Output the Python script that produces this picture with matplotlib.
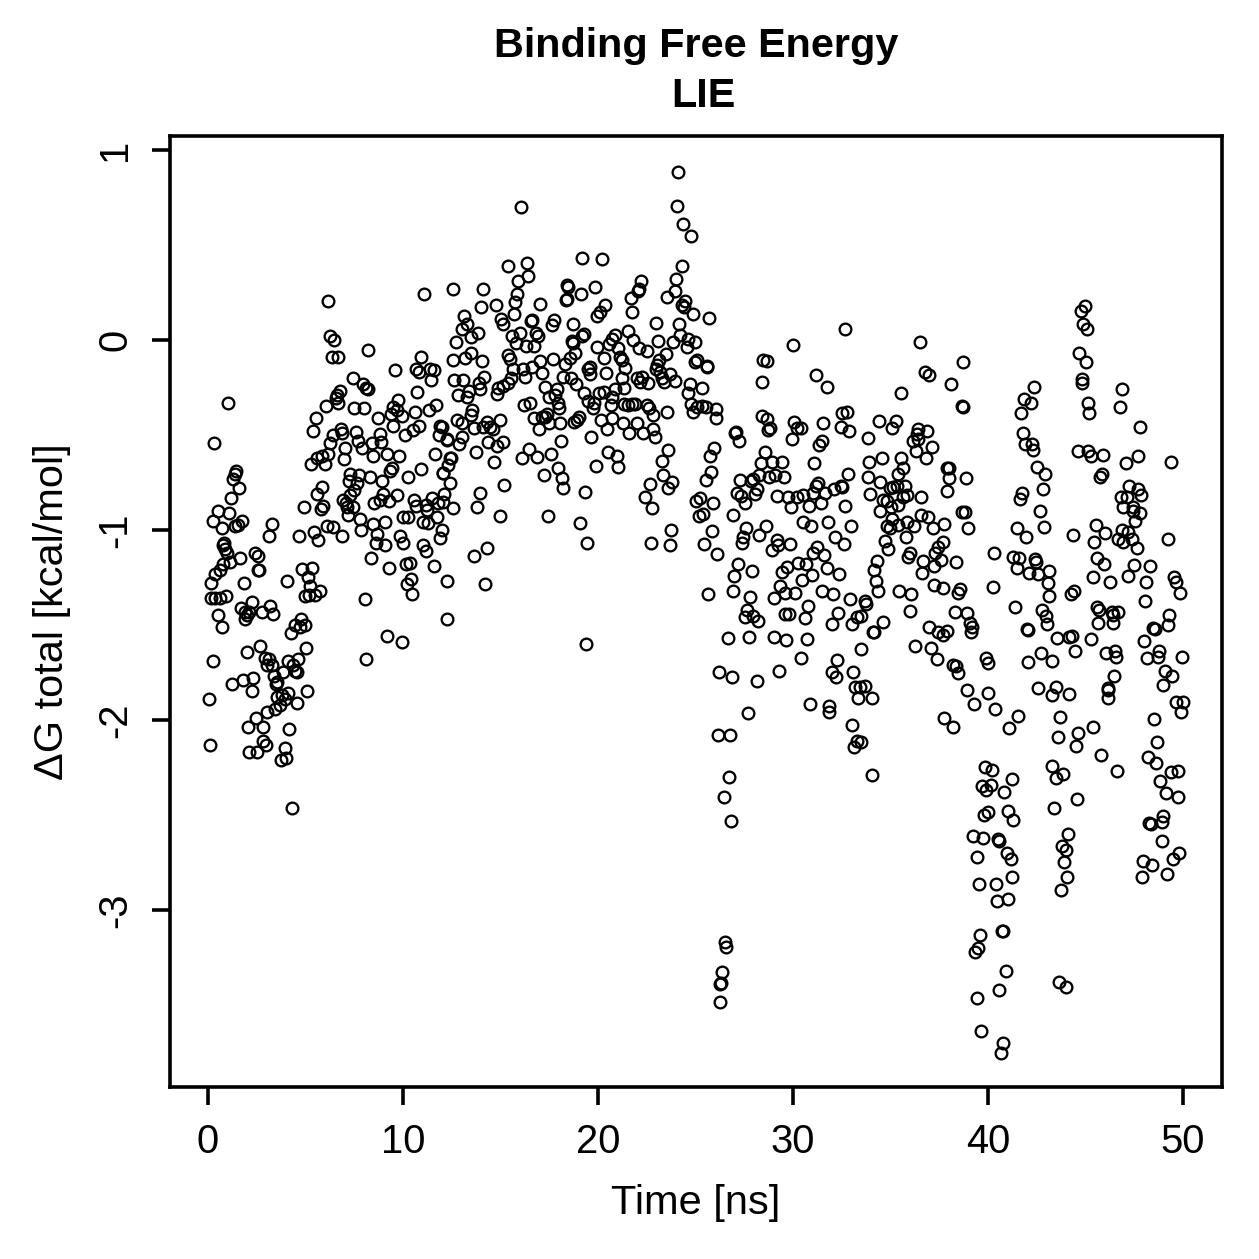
import matplotlib
matplotlib.use("Agg")
import matplotlib.pyplot as plt

# (time in ns, total binding free energy in kcal/mol), grouped by trajectory stretch
start_low = [
(.79,-1.08),(.87,-1.10),(.96,-1.12),(1.64,-1.15),(1.13,-1.17),(.79,-1.18),(.62,-1.21),(.36,-1.23),(.14,-1.28),(1.85,-1.28),
(2.41,-1.12),(2.58,-1.135),(2.58,-1.21),(2.64,-1.21),(.14,-1.36),(.36,-1.36),(.62,-1.36),(.93,-1.35),(1.68,-1.41),(2.28,-1.38),
(1.9,-1.43),(2.12,-1.43),(2.02,-1.45),(1.9,-1.47),(2.76,-1.43),(3.18,-1.40),(3.35,-1.44),(.53,-1.45),(.74,-1.51),(4.04,-1.27),
(4.84,-1.205),(5.35,-1.2),(5.15,-1.25),(5.23,-1.295),(4.98,-1.35),(5.2,-1.34),(5.49,-1.34),(5.75,-1.32),(4.77,-1.47),(4.46,-1.5),
(4.72,-1.51),(4.98,-1.5),(4.24,-1.54),(5.03,-1.62),(2.67,-1.61),(1.99,-1.64),(.24,-1.69),(2.93,-1.675),(3.15,-1.68),(3.01,-1.71),
(3.27,-1.71),(4.12,-1.69),(4.64,-1.68),(4.38,-1.71),(4.46,-1.74),(4.58,-1.75),(3.87,-1.75),(3.39,-1.77),(3.56,-1.8),(3.49,-1.81),
(2.33,-1.78),(1.78,-1.79),(1.22,-1.81),(2.24,-1.85),(.05,-1.89),(5.1,-1.85),(4.12,-1.86),(3.78,-1.87),(3.52,-1.88),(3.95,-1.89),
(3.7,-1.92),(4.58,-1.91),(3.44,-1.94),(3.05,-1.96),(2.45,-1.99),(2.07,-2.035),(2.81,-2.035),(4.17,-2.05),(2.84,-2.11),(2.98,-2.13),
(.11,-2.13),(2.12,-2.17),(2.53,-2.17),(3.95,-2.15),(3.73,-2.21),(4.0,-2.2),(4.29,-2.465),
]
rise_upper = [
(6.17,.205),(11.1,.24),(6.26,.02),(6.48,0),(6.35,-.09),(6.69,-.09),(8.19,-.05),(10.9,-.09),(9.59,-.16),(10.65,-.155),
(10.84,-.17),(11.39,-.15),(11.59,-.16),(11.42,-.21),(7.46,-.2),(7.93,-.23),(8.1,-.25),(8.23,-.26),(10.74,-.275),(6.77,-.27),
(6.6,-.29),(6.57,-.307),(6.65,-.33),(6.05,-.345),(7.49,-.36),(8.0,-.36),(8.7,-.41),(9.76,-.315),(9.51,-.35),(9.68,-.37),
(9.39,-.39),(9.93,-.40),(10.62,-.38),(11.7,-.34),(11.35,-.37),(5.54,-.41),(5.4,-.48),(1.05,-.33),(.33,-.54),(6.81,-.47),
(6.43,-.5),(6.86,-.49),(7.59,-.485),(7.71,-.53),(7.88,-.57),(8.4,-.54),(8.82,-.495),(8.86,-.535),(9.51,-.455),(10.1,-.5),
(10.5,-.475),(10.8,-.45),(11.9,-.45),(11.83,-.5),(12.24,-.52),(11.64,-.6),(6.26,-.54),(7.03,-.57),(6.98,-.625),(6.14,-.6),
(5.58,-.62),(5.83,-.61),(6.0,-.65),(5.27,-.65),(8.45,-.61),(9.2,-.6),(9.8,-.61),(9.42,-.675),(9.34,-.69),(10.24,-.72),
(10.94,-.68),(12.04,-.7),(12.4,-.62),(7.29,-.705),(7.25,-.74),(7.76,-.71),(8.31,-.72),(8.91,-.74),(7.63,-.755),(7.51,-.79),
(7.29,-.815),(6.94,-.84),(7.08,-.86),(7.11,-.88),(7.46,-.88),(7.2,-.92),(5.83,-.775),(5.58,-.81),(4.94,-.88),(5.92,-.875),
(5.8,-.89),(8.96,-.81),(9.29,-.845),(9.68,-.815),(8.82,-.84),(8.52,-.86),(10.57,-.84),(10.65,-.875),(11.22,-.895),(11.47,-.83),
(11.81,-.86),(12.1,-.81),(12.07,-.85),(10.02,-.93),(10.28,-.93),(11.73,-.93),(11.05,-.96),(11.3,-.965),(7.8,-.94),(9.08,-.96),
(8.48,-.97),(7.83,-1.0),(6.09,-.98),(6.4,-.985),(5.44,-1.01),(4.69,-1.03),(6.89,-1.03),(8.65,-1.02),(9.85,-1.03),(11.99,-1.0),
(11.9,-1.04),(1.44,-.69),(1.39,-.705),(1.3,-.73),(1.61,-.78),(1.18,-.83),(.5,-.9),(1.1,-.91),(.28,-.95),(.7,-.99),
(1.73,-.955),(1.56,-.975),(1.39,-.98),(3.3,-.97),(3.15,-1.03),(.82,-1.07),(8.62,-1.07),(9.08,-1.08),(9.99,-1.07),(11.01,-1.08),
(11.17,-1.11),(8.35,-1.15),(9.3,-1.2),(11.61,-1.19),(10.16,-1.18),(10.36,-1.175),(12.28,-1.27),(10.4,-1.26),(10.19,-1.285),(10.45,-1.335),
(8.05,-1.365),(12.24,-1.47),(9.17,-1.56),(9.93,-1.59),(8.09,-1.68),(5.66,-1.05),
]
plateau = [
(24.1,.884),(16.05,.70),(24.04,.705),(24.34,.61),(24.75,.55),(19.16,.43),(20.19,.424),(15.4,.39),(16.34,.403),(16.4,.338),
(15.88,.312),(24.29,.39),(24.0,.32),(22.2,.312),(12.58,.268),(14.09,.271),(18.4,.289),(18.45,.28),(19.85,.28),(22.1,.27),
(22.04,.26),(19.11,.24),(15.83,.24),(21.69,.219),(23.95,.257),(23.52,.228),(18.4,.215),(18.36,.21),(24.46,.205),(24.29,.184),
(24.41,.172),(15.75,.198),(17.0,.192),(14.0,.175),(14.75,.187),(20.36,.184),(20.1,.149),(19.97,.126),(21.76,.145),(15.7,.136),
(24.86,.135),(25.69,.117),(13.15,.126),(15.01,.113),(15.11,.084),(16.6,.105),(16.55,.1),(17.75,.108),(17.63,.078),(18.7,.082),
(22.96,.092),(24.16,.082),(13.27,.082),(13.01,.056),(13.87,.035),(13.47,.017),(12.72,-.009),(16.0,.035),(15.58,.02),(15.8,-.018),
(16.31,-.03),(16.74,-.03),(16.82,.038),(16.94,.02),(19.28,.03),(19.2,.022),(18.65,-.004),(18.74,-.018),(19.93,-.036),(21.52,.047),
(20.87,.026),(20.74,.003),(20.58,-.022),(21.81,0),(21.05,-.04),(22.1,-.04),(22.53,-.058),(23.1,-.006),(23.83,-.009),(24.21,.026),
(24.64,.005),(24.98,-.009),(24.55,-.036),(23.49,-.076),(13.49,-.07),(13.18,-.093),(12.55,-.106),(14.07,-.109),(15.37,-.079),(15.49,-.102),
(17.03,-.109),(17.71,-.1),(18.82,-.07),(18.57,-.092),(18.31,-.127),(20.31,-.093),(21.13,-.088),(21.22,-.106),(23.15,-.106),(23.05,-.132),
(22.96,-.153),(25.1,-.106),(24.98,-.118),(25.6,-.141),(21.39,-.146),(16.63,-.141),(16.17,-.15),(15.63,-.155),(17.11,-.171),(16.26,-.197),
(19.59,-.141),(19.51,-.153),(19.59,-.179),(20.4,-.172),(18.22,-.193),(18.6,-.202),(18.87,-.229),(21.22,-.202),(21.99,-.202),(22.24,-.193),
(22.16,-.22),(22.58,-.225),(23.18,-.167),(23.69,-.181),(23.27,-.2),(23.39,-.22),(23.95,-.215),(24.72,-.234),(25.35,-.255),(24.63,-.281),
(12.64,-.208),(13.1,-.208),(14.16,-.197),(13.9,-.225),(13.95,-.258),(15.54,-.199),(15.37,-.228),(15.15,-.24),(14.86,-.255),(14.81,-.285),
(12.84,-.29),(13.4,-.267),(13.3,-.302),(17.28,-.246),(17.88,-.258),(17.8,-.29),(17.49,-.302),(17.93,-.329),(18.02,-.36),(19.3,-.278),
(19.51,-.322),(19.8,-.334),(19.76,-.36),(20.07,-.281),(20.31,-.272),(20.87,-.258),(21.34,-.255),(20.7,-.299),(20.65,-.343),(21.35,-.339),
(21.56,-.343),(21.73,-.337),(21.9,-.337),(22.5,-.343),(22.64,-.36),(22.84,-.395),(23.52,-.378),(24.75,-.339),(25.06,-.351),(25.32,-.346),
(25.54,-.355),(26.04,-.364),(24.89,-.378),(26.05,-.413),(16.22,-.343),(16.52,-.329),(13.56,-.369),(13.49,-.395),(12.79,-.421),(13.01,-.436),
(14.98,-.421),(14.29,-.43),(14.12,-.457),(14.46,-.46),(14.6,-.47),(13.66,-.465),(16.72,-.413),(17.11,-.407),(17.4,-.387),(17.28,-.404),
(17.51,-.439),(18.05,-.439),(16.98,-.47),(19.0,-.404),(18.91,-.42),(18.79,-.434),(20.14,-.421),(20.7,-.413),(21.27,-.439),(21.99,-.439),
(20.45,-.469),(21.61,-.488),(22.33,-.488),(22.84,-.469),(22.93,-.509),(19.64,-.509),(18.11,-.532),(11.99,-.46),(12.24,-.527),(13.05,-.513),
(12.89,-.548),(14.38,-.535),(15.15,-.539),(14.84,-.558),(13.75,-.592),(12.45,-.62),(16.48,-.574),(16.09,-.623),(16.86,-.614),(17.59,-.602),
(14.69,-.642),(20.53,-.588),(20.96,-.609),(21.05,-.667),(19.9,-.662),(23.61,-.579),(23.27,-.636),(23.35,-.708),(23.81,-.748),(22.67,-.76),
(17.25,-.708),(17.93,-.671),(18.17,-.725),(18.19,-.778),(15.2,-.764),(12.07,-.702),(12.41,-.751),(19.34,-.8),
(12.56,-.885),(13.95,-.805),(14.97,-.926),(13.8,-.88),(13.64,-1.137),(14.3,-1.095),(14.2,-1.284),(17.44,-.926),(19.08,-.963),(19.44,-1.068),
(19.38,-1.6),(22.4,-.826),(22.77,-.884),(22.7,-1.068),(23.7,-1.08),(23.74,-1.0),(23.6,-.78),(12.3,-.66),(11.2,-.87),
]
decline = [
(28.4,-.4),(28.69,-.416),(28.82,-.465),(28.74,-.474),(30.05,-.434),(30.19,-.465),(30.4,-.465),(29.93,-.521),(31.56,-.439),(32.45,-.46),
(32.5,-.386),(32.75,-.377),(32.87,-.479),(33.87,-.518),(34.41,-.427),(35.27,-.425),(35.06,-.465),(38.69,-.348),(38.74,-.351),(36.39,-.47),
(36.86,-.479),(36.34,-.497),(36.39,-.523),(36.14,-.53),(37.11,-.562),(36.29,-.584),(36.81,-.623),(27.08,-.483),(27.03,-.491),(27.25,-.53),
(25.95,-.567),(25.75,-.609),(25.8,-.693),(25.54,-.737),(28.57,-.588),(28.34,-.646),(28.91,-.641),(29.42,-.644),(28.26,-.711),(28.79,-.723),
(29.08,-.711),(29.54,-.723),(31.1,-.649),(31.47,-.53),(31.35,-.553),(33.9,-.641),(34.55,-.623),(35.52,-.623),(35.66,-.672),(35.4,-.705),
(32.8,-.705),(33.83,-.723),(34.46,-.746),(27.28,-.737),(27.85,-.742),(27.93,-.734),(27.11,-.807),(27.32,-.82),(28.14,-.786),(28.05,-.812),
(27.54,-.86),(25.23,-.834),(25.03,-.846),(25.92,-.86),(26.94,-.921),(25.4,-.916),(25.2,-.925),(29.2,-.821),(29.73,-.828),(30.22,-.825),
(30.53,-.816),(29.9,-.877),(30.82,-.874),(31.42,-.86),(31.01,-.807),(31.18,-.767),(31.3,-.755),(31.64,-.807),(32.1,-.786),(32.45,-.769),
(32.53,-.776),(32.67,-.872),(33.95,-.812),(34.6,-.842),(34.81,-.848),(34.46,-.9),(35.03,-.877),(35.4,-.869),(35.15,-.776),(34.98,-.781),
(35.32,-.769),(35.75,-.767),(35.83,-.816),(35.66,-.825),(36.57,-.825),(37.92,-.676),(38.02,-.676),(38,-.728),(38.87,-.728),(37.92,-.793),
(38.65,-.907),(38.82,-.907),(38.99,-.99),(36.57,-.921),(36.91,-.93),(35.06,-.944),(34.81,-.979),(34.98,-.991),(35.4,-.974),(35.87,-.96),
(36.22,-.979),(37.16,-.988),(37.76,-.97),(35.78,-1.035),(34.72,-1.058),(34.86,-1.102),(37.71,-1.062),(37.45,-1.088),(37.28,-1.12),(37.57,-1.158),
(36,-1.123),(35.92,-1.144),(36.69,-1.163),(37.25,-1.19),(38.36,-1.167),(36.63,-1.228),(37.25,-1.29),(37.71,-1.307),(38.57,-1.311),(38.48,-1.334),
(35.46,-1.321),(36.05,-1.339),(36,-1.427),(38.31,-1.43),(38.91,-1.439),(39.08,-1.491),(39.2,-1.509),(39.13,-1.535),(36.99,-1.512),(37.88,-1.53),
(37.45,-1.539),(37.71,-1.553),(36.26,-1.609),(37.06,-1.623),(37.37,-1.681),(38.22,-1.711),(38.36,-1.714),(38.45,-1.755),(38.94,-1.842),(39.9,-1.672),
(40.02,-1.702),(39.99,-1.86),(25.87,-1.005),(25.46,-1.076),(26.09,-1.128),(27.59,-.988),(27.42,-1.035),(27.37,-1.07),(28.62,-.977),(28.28,-1.026),
(29.16,-1.053),(29.25,-1.079),(29.85,-1.074),(28.94,-1.105),(30.53,-.956),(30.91,-.979),(31.81,-.956),(32.96,-.977),(32.16,-1.035),(32.62,-1.074),
(31.25,-1.088),(31.01,-1.123),(31.61,-1.132),(30.28,-1.176),(30.65,-1.179),(29.71,-1.197),(29.42,-1.223),(31.76,-1.198),(32.36,-1.232),(30.96,-1.237),
(30.45,-1.263),(29.34,-1.293),(27.2,-1.181),(26.99,-1.241),(27.88,-1.216),(26.91,-1.32),(25.66,-1.339),(27.8,-1.355),(29,-1.356),(29.59,-1.334),
(30.1,-1.334),(31.51,-1.32),(32.07,-1.339),(32.93,-1.363),(34.33,-1.163),(34.16,-1.211),(34.26,-1.267),(34.38,-1.32),(33.69,-1.374),(33.73,-1.391),
(30.75,-1.398),(32.33,-1.439),(30.62,-1.465),(29.59,-1.444),(29.8,-1.444),(27.66,-1.421),(27.54,-1.46),(27.97,-1.451),(28.22,-1.479),(32.02,-1.497),
(33.01,-1.497),(33.27,-1.46),(33.49,-1.451),(34.63,-1.486),(34.12,-1.535),(34.17,-1.539),(26.65,-1.567),(27.76,-1.565),(29.04,-1.565),(29.64,-1.579),
(30.7,-1.574),(33.49,-1.627),(30.4,-1.676),(32.24,-1.684),(29.3,-1.742),(31.99,-1.746),(32.21,-1.772),(33.1,-1.746),(26.22,-1.746),(26.86,-1.772),
(28.14,-1.793),(33.18,-1.828),(33.44,-1.825),(33.69,-1.82),(33.35,-1.883),(34.04,-1.883),
(26.15,-2.08),(26.77,-2.08),(26.72,-2.3),(26.46,-2.405),(26.82,-2.53),(27.7,-1.963),(26.51,-3.168),(26.56,-3.195),(26.36,-3.326),(26.3,-3.384),
(26.26,-3.39),(26.26,-3.484),(30.87,-1.916),(31.85,-1.958),(31.85,-1.926),(33.03,-2.026),(33.13,-2.142),(33.49,-2.116),(33.28,-2.11),(34.05,-2.29),
(37.74,-1.99),(38.2,-2.037),(39.28,-1.916),(28.46,-.105),(28.67,-.11),(28.4,-.22),(30,-.026),(31.18,-.184),(31.74,-.247),(32.67,.058),
(36.5,-.01),(36.77,-.168),(36.97,-.184),(38.1,-.23),(38.72,-.116),(35.54,-.28),(25.6,-.137),
]
late_upper = [
(44.97,.179),(44.77,.153),(44.89,.084),(45.06,.056),(44.68,-.07),(45.01,-.114),(44.84,-.207),(44.82,-.228),(45.11,-.33),(45.2,-.386),
(46.85,-.26),(46.77,-.354),(47.79,-.46),(42.36,-.249),(41.85,-.312),(42.2,-.33),(41.69,-.386),(41.81,-.488),(41.9,-.549),(42.24,-.547),
(42.32,-.579),(42.49,-.667),(42.92,-.705),(44.63,-.583),(45.14,-.583),(45.26,-.609),(45.91,-.605),(47.06,-.649),(47.71,-.609),(49.37,-.644),
(45.86,-.707),(45.74,-.723),(47.23,-.767),(47.67,-.786),(47.83,-.816),(46.8,-.825),(47.11,-.828),(46.94,-.881),(47.45,-.877),(47.42,-.898),
(47.79,-.912),(47.54,-.951),(42.8,-.786),(41.76,-.804),(41.64,-.837),(42.67,-.898),(42.87,-.982),(41.47,-.991),(41.95,-1.039),(45.52,-.974),
(46,-1.018),(45.45,-1.061),(44.37,-1.026),(46.89,-1.0),(47.2,-1.012),(46.68,-1.047),(46.94,-1.061),(47.37,-1.049),(47.62,-1.096),(49.21,-1.047),
(40.31,-1.123),(41.3,-1.144),(41.59,-1.149),(41.5,-1.198),(42.41,-1.153),(42.46,-1.17),(42.12,-1.228),(42.58,-1.232),(43.13,-1.216),(43.06,-1.277),
(43.14,-1.346),(40.27,-1.302),(45.57,-1.146),(45.95,-1.179),(45.37,-1.249),(46.26,-1.272),(47.5,-1.184),(48.31,-1.188),(47.2,-1.242),(48.1,-1.272),
(48.05,-1.374),(49.55,-1.246),(49.64,-1.274),(49.84,-1.33),(44.41,-1.319),(44.24,-1.339),(41.38,-1.407),(42.75,-1.421),(42.96,-1.453),(43,-1.495),
(45.57,-1.404),(45.69,-1.421),(46.34,-1.43),(46.43,-1.447),(46.68,-1.43),(45.66,-1.491),(46.39,-1.488),(42.07,-1.526),(42.02,-1.523),(43.55,-1.57),
(44.17,-1.561),(44.32,-1.556),(45.3,-1.575),(44.46,-1.635),(46.03,-1.646),(46.51,-1.635),(46.55,-1.667),(48.44,-1.518),(48.56,-1.521),(49.25,-1.5),
(49.3,-1.447),(48.02,-1.583),(48.77,-1.635),(48.7,-1.67),(48.14,-1.675),(49.96,-1.67),(49.08,-1.74),(49.45,-1.768),(48.99,-1.816),(46.46,-1.768),
(46.14,-1.833),(46.17,-1.84),(46.17,-1.886),(42.7,-1.649),(42.07,-1.693),(43.3,-1.688),(42.58,-1.83),(43.47,-1.825),(43.26,-1.868),
(44.17,-1.863),
]
late_low = [
(40.36,-1.942),(41.55,-1.977),(41.09,-2.043),(43.69,-1.982),(43.61,-2.091),(44.6,-2.066),(44.51,-2.136),(45.4,-2.038),(45.79,-2.187),(46.6,-2.271),
(49.62,-1.908),(50.02,-1.908),(49.9,-1.959),(48.51,-1.996),(48.65,-2.117),(48.19,-2.196),(48.6,-2.228),(49.37,-2.275),(49.73,-2.266),(48.82,-2.319),
(49.13,-2.385),(49.76,-2.408),(48.99,-2.508),(48.9,-2.535),(48.27,-2.543),(48.36,-2.547),(48.9,-2.636),(49.81,-2.701),(49.5,-2.733),(47.93,-2.742),
(48.43,-2.763),(49.16,-2.81),(47.91,-2.824),(43.26,-2.242),(43.86,-2.284),(43.49,-2.303),(44.55,-2.417),(43.4,-2.464),(44.08,-2.601),(43.78,-2.666),
(43.98,-2.687),(43.9,-2.75),(44.07,-2.824),(43.74,-2.894),(43.64,-3.377),(43.98,-3.403),(39.84,-2.245),(40.19,-2.263),(41.25,-2.31),(39.71,-2.347),
(40.15,-2.342),(39.9,-2.368),(40.84,-2.38),(40.02,-2.485),(39.79,-2.5),(41.04,-2.478),(41.3,-2.526),(39.25,-2.613),(39.76,-2.622),(40.49,-2.628),
(40.58,-2.635),(40.96,-2.698),(41.16,-2.733),(39.45,-2.722),(41.21,-2.824),(39.54,-2.863),(40.41,-2.863),(40.44,-2.952),(41.01,-2.942),(39.59,-3.131),
(40.7,-3.113),(40.75,-3.113),(39.5,-3.201),(39.33,-3.219),(40.9,-3.32),(40.55,-3.424),(39.42,-3.461),(39.64,-3.635),(40.78,-3.698),(40.65,-3.754),
]
x_ticks = [0, 10, 20, 30, 40, 50]
y_ticks = [1, 0, -1, -2, -3]

points = start_low + rise_upper + plateau + decline + late_upper + late_low
time_ns = [p[0] for p in points]
delta_g = [p[1] for p in points]

plt.rcParams["font.family"] = ["Liberation Sans", "DejaVu Sans"]
W = H = 1259
dpi = 300
px = 72 / dpi  # one output pixel in points

fig = plt.figure(figsize=(W / dpi, H / dpi), dpi=dpi)
ax = fig.add_axes([170 / W, 1 - 1087 / H, (1222 - 170) / W, (1087 - 136) / H])
line, = ax.plot(time_ns, delta_g, linestyle="none", marker="o", markersize=11.7 * px,
                markerfacecolor="none", markeredgecolor="black", markeredgewidth=2.3 * px)
line.set_snap(False)
ax.set_xlim(-1.949, 52.0)
ax.set_ylim(-3.932, 1.074)

for side in ax.spines.values():
    side.set_linewidth(3.6 * px)
ax.set_xticks(x_ticks)
ax.set_yticks(y_ticks)
ax.set_yticklabels([str(v) for v in y_ticks], rotation=90, va="center")
ax.tick_params(axis="both", length=18 * px, width=3.6 * px, labelsize=40 * px, pad=18 * px)

fig.text(696 / W, 1 - 1203 / H, "Time [ns]", ha="center", va="center", fontsize=41.5 * px)
fig.text(52 / W, 1 - 612 / H, "ΔG total [kcal/mol]", rotation=90, ha="center", va="center", fontsize=41.5 * px)
fig.text(696 / W, 1 - 46 / H, "Binding Free Energy", ha="center", va="center", fontsize=41.4 * px, fontweight="bold")
fig.text(703 / W, 1 - 96 / H, "LIE", ha="center", va="center", fontsize=41.4 * px, fontweight="bold")

fig.savefig("out.png", dpi=dpi)
